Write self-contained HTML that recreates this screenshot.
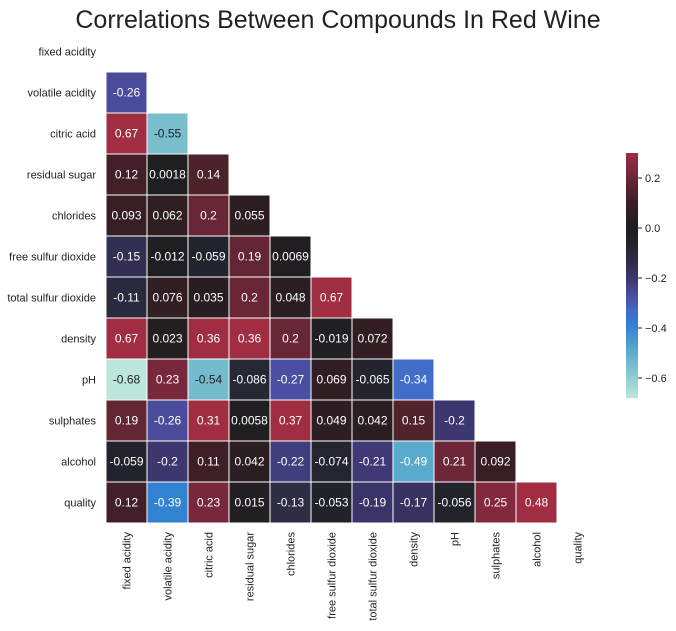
<!DOCTYPE html>
<html><head><meta charset="utf-8"><style>
body{margin:0;background:#fff;font-family:"Liberation Sans",sans-serif;}
svg text{font-family:"Liberation Sans",sans-serif;}
</style></head><body>
<svg id="c" width="676" height="626" xmlns="http://www.w3.org/2000/svg">
<text x="338" y="28" font-size="25" text-anchor="middle" fill="#222">Correlations Between Compounds In Red Wine</text>
<g id="cells"></g><g id="ylab"></g><g id="xlab"></g><g id="cbar"></g>
</svg>
<script>
const labels=["fixed acidity","volatile acidity","citric acid","residual sugar","chlorides","free sulfur dioxide","total sulfur dioxide","density","pH","sulphates","alcohol","quality"];
const rowValues=[
[],
["-0.26"],
["0.67","-0.55"],
["0.12","0.0018","0.14"],
["0.093","0.062","0.2","0.055"],
["-0.15","-0.012","-0.059","0.19","0.0069"],
["-0.11","0.076","0.035","0.2","0.048","0.67"],
["0.67","0.023","0.36","0.36","0.2","-0.019","0.072"],
["-0.68","0.23","-0.54","-0.086","-0.27","0.069","-0.065","-0.34"],
["0.19","-0.26","0.31","0.0058","0.37","0.049","0.042","0.15","-0.2"],
["-0.059","-0.2","0.11","0.042","-0.22","-0.074","-0.21","-0.49","0.21","0.092"],
["0.12","-0.39","0.23","0.015","-0.13","-0.053","-0.19","-0.17","-0.056","0.25","0.48"]];
const cbTicks=[0.2,0.0,-0.2,-0.4,-0.6];
const vmin=-0.68,vmax=0.3;
const stops=[[-0.68,[189,231,219]],[-0.55,[120,190,205]],[-0.49,[90,170,205]],[-0.39,[50,130,210]],[-0.34,[65,110,200]],[-0.26,[75,75,155]],[-0.2,[60,55,110]],[-0.17,[55,50,95]],[-0.13,[45,45,70]],[-0.06,[35,35,45]],[0,[30,30,32]],[0.1,[58,30,36]],[0.15,[80,35,45]],[0.23,[120,40,60]],[0.3,[160,45,65]]];
function color(v){v=Math.max(vmin,Math.min(vmax,v));for(let i=1;i<stops.length;i++){if(v<=stops[i][0]){const a=stops[i-1],b=stops[i],t=(v-a[0])/(b[0]-a[0]);return 'rgb('+a[1].map((c,k)=>Math.round(c+(b[1][k]-c)*t)).join(',')+')';}}return 'rgb(160,45,65)';}
const X0=106,Y0=31,S=41;
const xPos=i=>X0+i*S, yPos=i=>Y0+i*S;
const NS="http://www.w3.org/2000/svg";
function mk(t,a,p){const e=document.createElementNS(NS,t);for(const k in a)e.setAttribute(k,a[k]);p.appendChild(e);return e;}
const cells=document.getElementById('cells');
rowValues.forEach((row,r)=>row.forEach((s,c)=>{const v=parseFloat(s);
const rc=mk('rect',{x:xPos(c),y:yPos(r),width:S,height:S,fill:color(v),stroke:'#fff','stroke-width':1},cells);


const t=mk('text',{x:xPos(c)+S/2,y:yPos(r)+S/2+4,'font-size':12,'text-anchor':'middle',fill:v<-0.5?'#222':'#fff'},cells);t.textContent=s;


}));
const yl=document.getElementById('ylab'),xl=document.getElementById('xlab');
labels.forEach((l,i)=>{
const t=mk('text',{x:96,y:yPos(i)+S/2+4,'font-size':11,'text-anchor':'end',fill:'#222'},yl);t.textContent=l;


const cx=xPos(i)+S/2+4;
const u=mk('text',{x:cx,y:532,'font-size':11,'text-anchor':'end',fill:'#222',transform:'rotate(-90 '+cx+' 532)'},xl);u.textContent=l;


});
const cb=document.getElementById('cbar');const CT=153,CB=398,CX=626,CW=12;
const cy=v=>CB-(v-vmin)/(vmax-vmin)*(CB-CT);
for(let y=CT;y<CB;y++){const v=vmax-(y-CT)/(CB-CT)*(vmax-vmin);const r=mk('rect',{x:CX,y:y,width:CW,height:1.2,fill:color(v)},cb);
}
cbTicks.forEach(v=>{const y=cy(v);const ln=mk('line',{x1:CX+CW,x2:CX+CW+4,y1:y,y2:y,stroke:'#222'},cb);

const t=mk('text',{x:CX+CW+7,y:y+4,'font-size':11,fill:'#222'},cb);t.textContent=(v<0?'\u2212':'')+Math.abs(v).toFixed(1);

});
</script>
</body></html>
